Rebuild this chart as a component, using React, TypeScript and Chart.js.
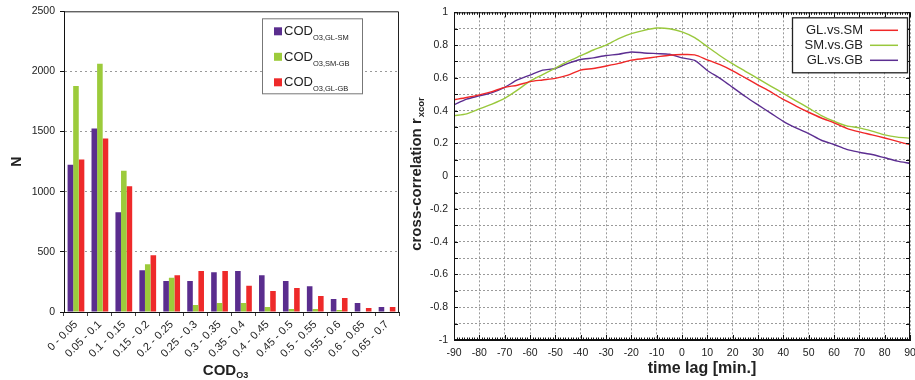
import React, { useEffect, useRef } from 'react';
import { Chart, registerables } from 'chart.js';
Chart.register(...registerables);

const FONT = '"Liberation Sans", Arial, sans-serif';
Chart.defaults.font.family = FONT;

// ---- Left chart data (histogram of COD_O3) ----
const codBins = [
  '0 - 0.05', '0.05 - 0.1', '0.1 - 0.15', '0.15 - 0.2', '0.2 - 0.25', '0.25 - 0.3', '0.3 - 0.35',
  '0.35 - 0.4', '0.4 - 0.45', '0.45 - 0.5', '0.5 - 0.55', '0.55 - 0.6', '0.6 - 0.65', '0.65 - 0.7',
];
const countGlSm = [1225, 1526, 830, 348, 257, 257, 331, 340, 306, 257, 215, 108, 75, 41];
const countSmGb = [1879, 2064, 1175, 397, 284, 58, 75, 75, 41, 25, 25, 17, 0, 0];
const countGlGb = [1267, 1443, 1046, 472, 306, 340, 340, 218, 174, 199, 133, 116, 33, 41];
const nTicks = [0, 500, 1000, 1500, 2000, 2500];
const legendSubs = ['O3,GL-SM', 'O3,SM-GB', 'O3,GL-GB'];

// ---- Right chart data (cross-correlation) ----
const lagMinutes = [
  -90, -85, -80, -75, -70, -65, -60, -55, -50, -45, -40, -35, -30, -25, -20, -15, -10, -5, 0,
  5, 10, 15, 20, 25, 30, 35, 40, 45, 50, 55, 60, 65, 70, 75, 80, 85, 90,
];
const xcorGlSm = [
  0.466, 0.48, 0.496, 0.516, 0.542, 0.555, 0.577, 0.587, 0.597, 0.617, 0.647, 0.657, 0.672, 0.688,
  0.708, 0.718, 0.728, 0.738, 0.742, 0.74, 0.71, 0.68, 0.643, 0.6, 0.556, 0.515, 0.468, 0.428,
  0.39, 0.355, 0.325, 0.292, 0.27, 0.252, 0.233, 0.212, 0.192,
];
const xcorSmGb = [
  0.369, 0.38, 0.41, 0.44, 0.475, 0.525, 0.58, 0.62, 0.66, 0.7, 0.735, 0.77, 0.8, 0.84,
  0.87, 0.89, 0.904, 0.9, 0.88, 0.845, 0.79, 0.735, 0.685, 0.64, 0.595, 0.55, 0.505, 0.46, 0.415,
  0.37, 0.335, 0.307, 0.295, 0.275, 0.252, 0.238, 0.232,
];
const xcorGlGb = [
  0.435, 0.47, 0.49, 0.51, 0.542, 0.587, 0.617, 0.647, 0.657, 0.688, 0.712, 0.722, 0.736, 0.744,
  0.758, 0.752, 0.748, 0.744, 0.722, 0.706, 0.645, 0.597, 0.542, 0.486, 0.435, 0.385, 0.334, 0.294,
  0.26, 0.219, 0.193, 0.163, 0.146, 0.132, 0.112, 0.092, 0.078,
];
const lagTicks = [-90, -80, -70, -60, -50, -40, -30, -20, -10, 0, 10, 20, 30, 40, 50, 60, 70, 80, 90];
const rTicks = [-1, -0.9, -0.8, -0.7, -0.6, -0.5, -0.4, -0.3, -0.2, -0.1, 0, 0.1, 0.2, 0.3, 0.4, 0.5, 0.6, 0.7, 0.8, 0.9, 1];
const rLabelTicks = [-1, -0.8, -0.6, -0.4, -0.2, 0, 0.2, 0.4, 0.6, 0.8, 1];
const seriesNames = ['GL.vs.SM', 'SM.vs.GB', 'GL.vs.GB'];

const BAR_COLORS = ['#5A2D8E', '#9CCB3B', '#EE2A2A'];
const LINE_COLORS = ['#F02828', '#99C83C', '#5C2E91'];
const TEXT = '#222';

const leftDecor = {
  id: 'leftDecor',
  afterDraw(chart: any) {
    const { ctx, chartArea: a } = chart;
    ctx.save();
    ctx.strokeStyle = '#222';
    ctx.lineWidth = 1;
    ctx.beginPath();
    ctx.moveTo(a.left, a.top + 0.5);
    ctx.lineTo(a.right - 0.5, a.top + 0.5);
    ctx.lineTo(a.right - 0.5, a.bottom);
    ctx.stroke();
    // legend
    const bx = a.right - 137, by = a.top + 7, bw = 100, bh = 75;
    ctx.fillStyle = '#fff';
    ctx.fillRect(bx, by, bw, bh);
    ctx.strokeStyle = '#777';
    ctx.strokeRect(bx + 0.5, by + 0.5, bw, bh);
    for (let i = 0; i < 3; i++) {
      const base = by + 17 + i * 25.5;
      ctx.fillStyle = BAR_COLORS[i];
      ctx.fillRect(bx + 12, base - 8, 8, 8);
      ctx.fillStyle = TEXT;
      ctx.font = `13px ${FONT}`;
      ctx.textAlign = 'left';
      ctx.textBaseline = 'alphabetic';
      ctx.fillText('COD', bx + 22, base);
      const w = ctx.measureText('COD').width;
      ctx.font = `7.5px ${FONT}`;
      ctx.fillText(legendSubs[i], bx + 22 + w, base + 5);
    }
    // y title
    ctx.save();
    ctx.translate(17, (a.top + a.bottom) / 2);
    ctx.rotate(-Math.PI / 2);
    ctx.font = `bold 14px ${FONT}`;
    ctx.textAlign = 'center';
    ctx.textBaseline = 'middle';
    ctx.fillStyle = TEXT;
    ctx.fillText('N', 0, 0);
    ctx.restore();
    // x title
    ctx.font = `bold 15px ${FONT}`;
    const w1 = ctx.measureText('COD').width;
    ctx.font = `bold 9px ${FONT}`;
    const w2 = ctx.measureText('O3').width;
    const cx = (a.left + a.right) / 2 - 6;
    const x0 = cx - (w1 + w2) / 2;
    ctx.fillStyle = TEXT;
    ctx.textAlign = 'left';
    ctx.textBaseline = 'alphabetic';
    ctx.font = `bold 15px ${FONT}`;
    ctx.fillText('COD', x0, 375);
    ctx.font = `bold 9px ${FONT}`;
    ctx.fillText('O3', x0 + w1, 378);
    ctx.restore();
  },
};

const rightDecor = {
  id: 'rightDecor',
  afterDraw(chart: any) {
    const { ctx, chartArea: a, scales } = chart;
    const xs = scales.x, ys = scales.y;
    ctx.save();
    ctx.strokeStyle = '#111';
    ctx.lineWidth = 1;
    ctx.strokeRect(a.left + 0.5, a.top + 0.5, a.right - a.left - 1, a.bottom - a.top - 1);
    ctx.beginPath();
    for (let t = lagTicks[0]; t <= lagTicks[lagTicks.length - 1]; t += 1) {
      const px = Math.round(xs.getPixelForValue(t)) + 0.5;
      const len = t % 10 === 0 ? 5 : 2.5;
      ctx.moveTo(px, a.top);
      ctx.lineTo(px, a.top + len);
      ctx.moveTo(px, a.bottom);
      ctx.lineTo(px, a.bottom - len);
    }
    for (const v of rTicks) {
      const py = Math.round(ys.getPixelForValue(v)) + 0.5;
      ctx.moveTo(a.left, py);
      ctx.lineTo(a.left + 4, py);
      ctx.moveTo(a.right, py);
      ctx.lineTo(a.right - 4, py);
    }
    ctx.stroke();
    // legend
    const bx = a.right - 118, by = a.top + 5, bw = 115, bh = 55;
    ctx.fillStyle = '#fff';
    ctx.fillRect(bx, by, bw, bh);
    ctx.lineWidth = 1.3;
    ctx.strokeStyle = '#222';
    ctx.strokeRect(bx + 0.5, by + 0.5, bw, bh);
    ctx.font = `13px ${FONT}`;
    ctx.textAlign = 'right';
    ctx.textBaseline = 'alphabetic';
    for (let i = 0; i < 3; i++) {
      ctx.fillStyle = TEXT;
      ctx.fillText(seriesNames[i], bx + 71, by + 17 + i * 14.7);
      ctx.strokeStyle = LINE_COLORS[i];
      ctx.lineWidth = 1.5;
      ctx.beginPath();
      const ly = by + 13 + i * 15;
      ctx.moveTo(bx + 78, ly);
      ctx.lineTo(bx + 106, ly);
      ctx.stroke();
    }
    // y title
    ctx.save();
    ctx.translate(16, 174);
    ctx.rotate(-Math.PI / 2);
    ctx.fillStyle = TEXT;
    ctx.textAlign = 'left';
    ctx.font = `bold 15px ${FONT}`;
    const m1 = ctx.measureText('cross-correlation r').width;
    ctx.font = `bold 9.5px ${FONT}`;
    const m2 = ctx.measureText('xcor').width;
    const sx = -(m1 + m2 + 1) / 2;
    ctx.font = `bold 15px ${FONT}`;
    ctx.fillText('cross-correlation r', sx, 0);
    ctx.font = `bold 9.5px ${FONT}`;
    ctx.fillText('xcor', sx + m1 + 1, 3);
    ctx.restore();
    // x title
    ctx.font = `bold 16px ${FONT}`;
    ctx.textAlign = 'center';
    ctx.fillStyle = TEXT;
    ctx.fillText('time lag [min.]', (a.left + a.right) / 2 + 20, 373);
    ctx.restore();
  },
};

export default function App() {
  const leftRef = useRef<HTMLCanvasElement>(null);
  const rightRef = useRef<HTMLCanvasElement>(null);

  useEffect(() => {
    const tickFont = { family: FONT, size: 10.5 };
    const left = new Chart(leftRef.current as HTMLCanvasElement, {
      type: 'bar',
      data: {
        labels: codBins,
        datasets: [countGlSm, countSmGb, countGlGb].map((d, i) => ({
          label: 'COD' + legendSubs[i],
          data: d,
          backgroundColor: BAR_COLORS[i],
          borderWidth: 0,
          categoryPercentage: 0.7,
          barPercentage: 1.0,
        })),
      },
      options: {
        responsive: false,
        animation: false,
        layout: { padding: { top: 10, right: 6, left: 0, bottom: 0 } },
        plugins: { legend: { display: false }, tooltip: { enabled: false } },
        scales: {
          x: {
            type: 'category',
            offset: true,
            grid: { offset: true, drawOnChartArea: false, drawTicks: true, tickLength: 4, color: '#444' },
            border: { display: true, color: '#111' },
            ticks: { autoSkip: false, minRotation: 45, maxRotation: 45, padding: 2, font: { family: FONT, size: 11 }, color: TEXT },
            afterFit: (s: any) => { s.height = 68; s.paddingLeft = 0; s.paddingRight = 0; },
          },
          y: {
            min: nTicks[0],
            max: nTicks[nTicks.length - 1],
            afterBuildTicks: (s: any) => { s.ticks = nTicks.map((v) => ({ value: v })); },
            grid: {
              color: (c: any) => (c.tick && (c.tick.value === nTicks[0] || c.tick.value === nTicks[nTicks.length - 1]) ? 'rgba(0,0,0,0)' : '#9a9a9a'),
              tickColor: '#111',
              tickLength: 4,
              drawTicks: true,
            },
            border: { display: true, color: '#111', dash: [2, 3] },
            ticks: { padding: 5, font: tickFont, color: TEXT, autoSkip: false, callback: (v: any) => String(v) },
            afterFit: (s: any) => { s.width = 64; },
          },
        },
      },
      plugins: [leftDecor],
    } as any);

    const right = new Chart(rightRef.current as HTMLCanvasElement, {
      type: 'line',
      data: {
        datasets: [xcorGlSm, xcorSmGb, xcorGlGb].map((d, i) => ({
          label: seriesNames[i],
          data: d.map((v, j) => ({ x: lagMinutes[j], y: v })),
          borderColor: LINE_COLORS[i],
          borderWidth: 1.4,
          pointRadius: 0,
          tension: 0.25,
          fill: false,
        })),
      },
      options: {
        responsive: false,
        animation: false,
        layout: { padding: { top: 12, right: 5, left: 0, bottom: 0 } },
        plugins: { legend: { display: false }, tooltip: { enabled: false } },
        scales: {
          x: {
            type: 'linear',
            min: lagTicks[0],
            max: lagTicks[lagTicks.length - 1],
            afterBuildTicks: (s: any) => { s.ticks = lagTicks.map((v) => ({ value: v })); },
            grid: { color: '#9a9a9a', drawTicks: false },
            border: { display: true, color: '#111', dash: [2, 2] },
            ticks: { autoSkip: false, maxRotation: 0, padding: 7, font: tickFont, color: TEXT, callback: (v: any) => String(v) },
            afterFit: (s: any) => { s.height = 40; s.paddingLeft = 0; s.paddingRight = 0; },
          },
          y: {
            type: 'linear',
            min: rTicks[0],
            max: rTicks[rTicks.length - 1],
            afterBuildTicks: (s: any) => { s.ticks = rTicks.map((v) => ({ value: v })); },
            grid: { color: '#9a9a9a', drawTicks: false },
            border: { display: true, color: '#111', dash: [2, 2] },
            ticks: {
              autoSkip: false,
              padding: 6,
              font: tickFont,
              color: TEXT,
              callback: (v: any) => (rLabelTicks.includes(v) ? String(v) : ''),
            },
            afterFit: (s: any) => { s.width = 49; },
          },
        },
      },
      plugins: [rightDecor],
    } as any);

    return () => {
      left.destroy();
      right.destroy();
    };
  }, []);

  return (
    <div style={{ position: 'fixed', left: 0, top: 0, width: 915, height: 380, overflow: 'hidden', background: '#fff' }}>
      <canvas ref={leftRef} width={405} height={380} style={{ position: 'absolute', left: 0, top: 0, width: 405, height: 380 }} />
      <canvas ref={rightRef} width={510} height={380} style={{ position: 'absolute', left: 405, top: 0, width: 510, height: 380 }} />
    </div>
  );
}
